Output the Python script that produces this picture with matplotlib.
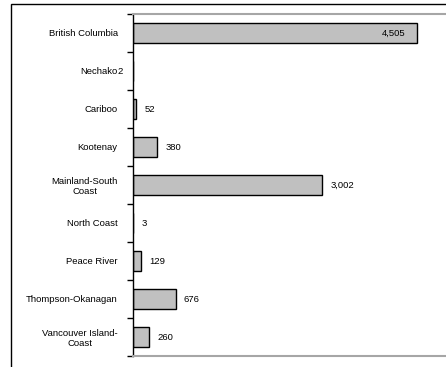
import matplotlib.pyplot as plt
from matplotlib.patches import Rectangle

regions = ["British Columbia", "Nechako", "Cariboo", "Kootenay",
           "Mainland-South\nCoast", "North Coast", "Peace River",
           "Thompson-Okanagan", "Vancouver Island-\nCoast"]
counts = [4505, 2, 52, 380, 3002, 3, 129, 676, 260]

plt.rcParams['font.family'] = ['Liberation Sans', 'DejaVu Sans']
FS = 6.8

fig = plt.figure(figsize=(4.46, 3.67), dpi=100)
ax = fig.add_axes([133 / 446, 11 / 367, 315 / 446, 342 / 367])

pos = list(range(len(regions)))
ax.barh(pos, counts, height=0.53, color='#c0c0c0', edgecolor='black', linewidth=1)
ax.set_ylim(len(regions) - 0.5, -0.5)
ax.set_xlim(0, 5000)

# value labels: the big bar gets its label inside, tiny ones sit by the axis
for y, v in zip(pos, counts):
    txt = f"{v:,}"
    if v == max(counts):
        ax.annotate(txt, (v, y), xytext=(-8, 0), textcoords='offset points',
                    ha='right', va='center', fontsize=FS)
    elif v == 2:
        ax.annotate(txt, (v, y), xytext=(-9.5, 0), textcoords='offset points',
                    ha='center', va='center', fontsize=FS)
    else:
        ax.annotate(txt, (v, y), xytext=(6, 0), textcoords='offset points',
                    ha='left', va='center', fontsize=FS)

ax.set_yticks(pos)
ax.set_yticklabels(regions, fontsize=FS)
for lab in ax.get_yticklabels():
    lab.set_multialignment('center')
ax.tick_params(axis='y', which='major', length=0, pad=11)
ax.set_yticks([p - 0.5 for p in pos] + [len(regions) - 0.5], minor=True)
ax.tick_params(axis='y', which='minor', length=4, width=1, color='black', direction='out')
ax.set_xticks([])

ax.spines['left'].set_color('black')
ax.spines['left'].set_linewidth(1)
for side in ('top', 'bottom'):
    ax.spines[side].set_color('#a6a6a6')
    ax.spines[side].set_linewidth(1.5)
ax.spines['right'].set_visible(False)

# outer chart frame (only top and left edges fall inside the image)
fig.add_artist(Rectangle((11 / 446, -0.2), 1.2, (363 / 367) + 0.2,
                         transform=fig.transFigure, fill=False,
                         edgecolor='black', linewidth=1))

fig.savefig('out.png', dpi=100)
